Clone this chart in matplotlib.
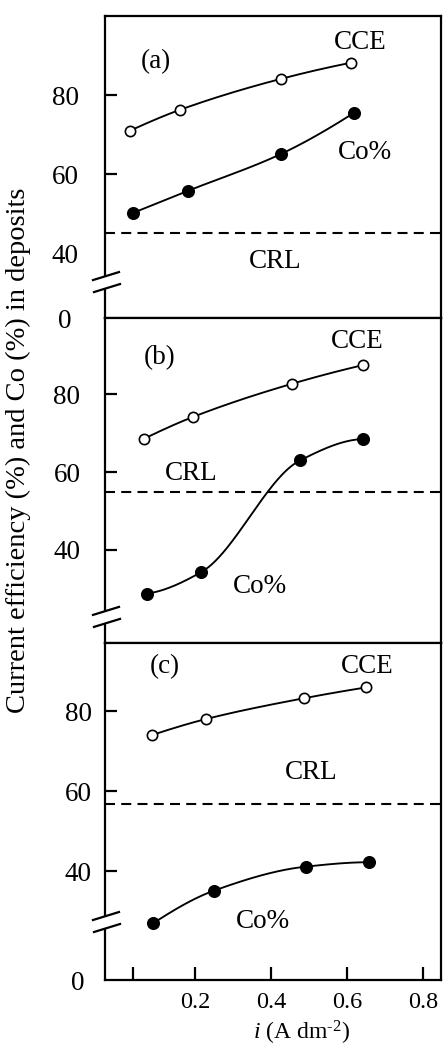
import numpy as np
import matplotlib
matplotlib.use("Agg")
import matplotlib.pyplot as plt
import matplotlib.transforms as mtransforms

plt.rcParams['font.family'] = ['Liberation Serif', 'DejaVu Serif']
plt.rcParams['mathtext.fontset'] = 'custom'
plt.rcParams['mathtext.rm'] = 'Liberation Serif'
plt.rcParams['mathtext.it'] = 'Liberation Serif:italic'

# ---- data: current density i (A dm-2) vs CCE (%) and Co (%) in deposits ----
# (a)
i_cce_a = [0.029, 0.161, 0.426, 0.611]
cce_a = [71.0, 76.3, 84.1, 88.2]
i_co_a = [0.037, 0.182, 0.426, 0.618]
co_a = [50.2, 55.8, 65.1, 75.5]
crl_a = 45.1
# (b)
i_cce_b = [0.066, 0.195, 0.455, 0.642]
cce_b = [68.6, 74.2, 82.7, 87.5]
i_co_b = [0.074, 0.216, 0.476, 0.642]
co_b = [28.8, 34.3, 63.0, 68.5]
crl_b = 54.9
# (c)
i_cce_c = [0.087, 0.229, 0.487, 0.650]
cce_c = [74.1, 78.1, 83.3, 86.0]
i_co_c = [0.089, 0.250, 0.492, 0.658]
co_c = [27.0, 35.2, 41.2, 42.3]
crl_c = 56.9

x_ticks = [0.037, 0.2, 0.4, 0.6, 0.8]
x_ticklabels = ['', '0.2', '0.4', '0.6', '0.8']

FS = 19.5
FS_X = 17.5
FS_XLABEL = 17
W, H = 444, 1046
fig = plt.figure(figsize=(W / 100, H / 100), dpi=100)


def pchip(x, y, n=200):
    """Shape-preserving cubic (Fritsch-Carlson) curve through the points."""
    x = np.asarray(x, float)
    y = np.asarray(y, float)
    h = np.diff(x)
    d = np.diff(y) / h
    m = np.zeros_like(y)
    for k in range(1, len(x) - 1):
        if d[k - 1] * d[k] > 0:
            w1 = 2 * h[k] + h[k - 1]
            w2 = h[k] + 2 * h[k - 1]
            m[k] = (w1 + w2) / (w1 / d[k - 1] + w2 / d[k])

    def end(h0, h1, d0, d1):
        s = ((2 * h0 + h1) * d0 - h0 * d1) / (h0 + h1)
        if np.sign(s) != np.sign(d0):
            s = 0.0
        elif np.sign(d0) != np.sign(d1) and abs(s) > abs(3 * d0):
            s = 3 * d0
        return s
    m[0] = end(h[0], h[1], d[0], d[1])
    m[-1] = end(h[-1], h[-2], d[-1], d[-2])
    xs = np.linspace(x[0], x[-1], n)
    idx = np.clip(np.searchsorted(x, xs) - 1, 0, len(x) - 2)
    t = (xs - x[idx]) / h[idx]
    h00 = 2 * t**3 - 3 * t**2 + 1
    h10 = t**3 - 2 * t**2 + t
    h01 = -2 * t**3 + 3 * t**2
    h11 = t**3 - t**2
    ys = h00 * y[idx] + h10 * h[idx] * m[idx] + h01 * y[idx + 1] + h11 * h[idx] * m[idx + 1]
    return xs, ys


def broken_scale(brk, k):
    def fwd(v):
        v = np.asarray(v, float)
        return np.where(v >= brk, v, brk - (brk - v) * k)

    def inv(u):
        u = np.asarray(u, float)
        return np.where(u >= brk, u, brk - (brk - u) / k)
    return fwd, inv


def draw_break(ax, yb):
    tr = fig.dpi_scale_trans + mtransforms.ScaledTranslation(0, yb, ax.get_yaxis_transform())
    # gap in the spine
    ax.plot([0, 0], [-0.062, 0.057], transform=tr, color='white', lw=3.0,
            clip_on=False, zorder=6, solid_capstyle='butt')
    ax.plot([-0.12, 0.14], [0.02, 0.10], transform=tr, color='black', lw=1.6,
            clip_on=False, zorder=7)
    ax.plot([-0.11, 0.15], [-0.10, -0.02], transform=tr, color='black', lw=1.6,
            clip_on=False, zorder=7)


def panel(rect, ylim, brk, k, yticks, label_pad, hide_tick_at,
          i_cce, cce, i_co, co, crl, texts):
    ax = fig.add_axes(rect)
    fwd, inv = broken_scale(brk, k)
    ax.set_yscale('function', functions=(fwd, inv))
    ax.set_xlim(-0.037, 0.847)
    ax.set_ylim(*ylim)
    for s in ax.spines.values():
        s.set_linewidth(1.6)
    ax.set_yticks(yticks)
    ax.set_yticklabels([str(t) for t in yticks])
    ax.yaxis.set_minor_locator(matplotlib.ticker.NullLocator())
    ax.tick_params(axis='y', direction='in', length=8.5, width=1.6,
                   labelsize=FS, pad=label_pad)
    plt.setp(ax.get_yticklabels(), ha='center')
    for t, tick in zip(yticks, ax.yaxis.get_major_ticks()):
        if t in hide_tick_at:
            tick.tick1line.set_visible(False)

    # curves
    xs, ys = pchip(i_cce, cce)
    ax.plot(xs, ys, color='black', lw=1.35, zorder=3)
    xs, ys = pchip(i_co, co)
    ax.plot(xs, ys, color='black', lw=1.35, zorder=3)
    ax.plot(i_cce, cce, 'o', ms=7.4, mfc='white', mec='black', mew=1.2, zorder=4)
    ax.plot(i_co, co, 'o', ms=8.4, mfc='black', mec='black', zorder=4)
    ax.axhline(crl, color='black', lw=1.5, dashes=(4.8, 3.0), zorder=2)

    for (tx, ty, s) in texts:
        ax.text(tx, ty, s, fontsize=FS, ha='center', va='baseline')
    draw_break(ax, brk)
    return ax


left = 105 / W
width = (441 - 105) / W


def rect(top_px, bot_px):
    return [left, 1 - bot_px / H, width, (bot_px - top_px) / H]


ax_a = panel(rect(16, 318), (0, 100), 32.7, 0.278, [0, 40, 60, 80], 28.8, [0, 40],
             i_cce_a, cce_a, i_co_a, co_a, crl_a,
             [(0.097, 86.9, '(a)'), (0.634, 91.7, 'CCE'),
              (0.647, 63.9, 'Co%'), (0.411, 36.3, 'CRL')])
ax_a.set_xticks([])

ax_b = panel(rect(318, 643), (0, 99.6), 22.8, 0.294, [40, 60, 80], 27.4, [],
             i_cce_b, cce_b, i_co_b, co_b, crl_b,
             [(0.108, 87.8, '(b)'), (0.626, 91.9, 'CCE'),
              (0.189, 58.0, 'CRL'), (0.371, 28.9, 'Co%')])
ax_b.set_xticks([])

ax_c = panel(rect(643, 980), (0, 97.1), 27.35, 0.53, [0, 40, 60, 80], 19.4, [0],
             i_cce_c, cce_c, i_co_c, co_c, crl_c,
             [(0.121, 89.6, '(c)'), (0.654, 89.6, 'CCE'),
              (0.505, 63.1, 'CRL'), (0.379, 24.5, 'Co%')])
ax_c.set_xticks(x_ticks)
ax_c.set_xticklabels(x_ticklabels)
ax_c.tick_params(axis='x', direction='in', length=9.5, width=1.6,
                 labelsize=FS_X, pad=9)

fig.text(18 / W, 1 - 450 / H, 'Current efficiency (%) and Co (%) in deposits',
         rotation=90, ha='center', va='center', fontsize=20.5)
fig.text(301 / W, 1 - 1039.5 / H, r'$i$ (A dm$^{\text{-2}}$)',
         ha='center', va='baseline', fontsize=FS_XLABEL)

fig.savefig('out.png', dpi=100)
